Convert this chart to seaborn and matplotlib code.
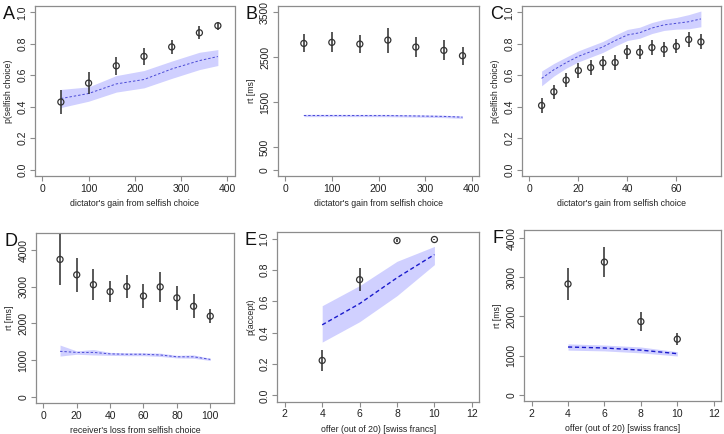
import numpy as np
import pandas as pd
import matplotlib
matplotlib.use("Agg")
import matplotlib.pyplot as plt
import seaborn as sns

# ---- panel A: dictator game, p(selfish choice)
a_x = [40, 100, 160, 220, 280, 340, 380]
a_obs = [0.43, 0.55, 0.66, 0.72, 0.78, 0.87, 0.915]
a_err = [0.074, 0.07, 0.058, 0.054, 0.044, 0.04, 0.025]
a_model = [0.452, 0.484, 0.545, 0.573, 0.64, 0.693, 0.719]
a_lo = [0.395, 0.435, 0.493, 0.52, 0.58, 0.636, 0.662]
a_hi = [0.51, 0.526, 0.598, 0.63, 0.69, 0.746, 0.763]

# ---- panel B: dictator game, rt
b_x = [40, 100, 160, 220, 280, 340, 380]
b_obs = [2808, 2831, 2794, 2882, 2727, 2653, 2535]
b_err = [200, 220, 195, 277, 218, 222, 203]
b_model = [1205, 1205, 1204, 1203, 1195, 1185, 1168]
b_lo = [1180, 1180, 1180, 1178, 1170, 1158, 1140]
b_hi = [1232, 1232, 1230, 1230, 1222, 1212, 1196]

# ---- panel C: second dictator data set
c_x = [5, 10, 15, 20, 25, 30, 35, 40, 45, 50, 55, 60, 65, 70]
c_obs = [0.408, 0.495, 0.569, 0.63, 0.649, 0.679, 0.681, 0.75, 0.746, 0.776,
         0.765, 0.784, 0.827, 0.812]
c_err = [0.048, 0.045, 0.045, 0.045, 0.045, 0.045, 0.045, 0.045, 0.045, 0.045,
         0.047, 0.045, 0.045, 0.048]
c_model = [0.58, 0.635, 0.68, 0.72, 0.75, 0.78, 0.82, 0.856, 0.87, 0.90,
           0.92, 0.93, 0.94, 0.958]
c_half = [0.047, 0.04, 0.035, 0.035, 0.035, 0.035, 0.035, 0.035, 0.035, 0.035,
          0.035, 0.037, 0.045, 0.05]

# ---- panel D: receiver's loss, rt
d_x = [10, 20, 30, 40, 50, 60, 70, 80, 90, 100]
d_obs = [3750, 3330, 3060, 2870, 3010, 2750, 3000, 2700, 2470, 2200]
d_err = [700, 460, 420, 290, 320, 340, 400, 320, 330, 200]
d_model = [1240, 1210, 1210, 1170, 1160, 1160, 1140, 1090, 1090, 1020]
d_lo = [1110, 1160, 1140, 1130, 1120, 1120, 1100, 1060, 1050, 990]
d_hi = [1410, 1250, 1290, 1210, 1200, 1200, 1190, 1130, 1140, 1050]

# ---- panel E: ultimatum game, p(accept)
e_x = [4, 6, 8, 10]
e_obs = [0.223, 0.738, 0.987, 0.994]
e_err = [0.068, 0.075, 0.012, 0.006]
e_model = [0.45, 0.585, 0.75, 0.898]
e_lo = [0.34, 0.47, 0.636, 0.834]
e_hi = [0.572, 0.70, 0.855, 0.95]

# ---- panel F: ultimatum game, rt
f_x = [4, 6, 8, 10]
f_obs = [2830, 3390, 1870, 1420]
f_err = [410, 390, 240, 150]
f_model = [1220, 1195, 1140, 1050]
f_lo = [1140, 1120, 1070, 990]
f_hi = [1300, 1270, 1220, 1100]

sns.set_style("white")
plt.rcParams["font.family"] = ["Liberation Sans", "DejaVu Sans"]

GRAY = "#8c8c8c"
BAND = "#d0d0ff"
LINE = "#4a4ad6"


def draw_panel(ax, x, obs, err, model, lo, hi, letter, xlabel, ylabel,
               xlim, ylim, xticks, yticks, yfmt, dark=False):
    ax.fill_between(x, lo, hi, color=BAND, lw=0, zorder=1)
    df = pd.DataFrame({"x": x, "model": model})
    sns.lineplot(data=df, x="x", y="model", ax=ax, color="#1a1acc" if dark else LINE,
                 linestyle=(0, (3, 2)) if dark else (0, (2.5, 2)),
                 linewidth=1.0 if dark else 0.7, zorder=2)
    ax.errorbar(x, obs, yerr=err, fmt="none", ecolor="#2b2b2b", elinewidth=1.1,
                capsize=0, zorder=3)
    sns.scatterplot(x=x, y=obs, ax=ax, marker="o", s=19, facecolor="none",
                    edgecolor="#333333", linewidth=0.9, zorder=4)
    ax.set_xlim(xlim)
    ax.set_ylim(ylim)
    ax.set_xticks(xticks)
    ax.set_yticks(yticks)
    ax.set_yticklabels([yfmt.format(v) for v in yticks], rotation=90, va="center")
    ax.tick_params(axis="both", direction="out", length=3.5, width=0.8,
                   color=GRAY, labelsize=7.5, pad=2, labelcolor="#222222")
    ax.tick_params(axis="both", which="both", bottom=True, left=True)
    for s in ax.spines.values():
        s.set_color(GRAY)
        s.set_linewidth(0.9)
    ax.set_xlabel(xlabel, fontsize=6.3, labelpad=4, color="#222222")
    ax.set_ylabel(ylabel, fontsize=6.3, labelpad=3, color="#222222")
    ax.text(-0.16, 1.0, letter, transform=ax.transAxes, fontsize=13,
            va="top", ha="left", color="#111111")


fig = plt.figure(figsize=(7.24, 4.34), dpi=100)

W, H = 724.0, 434.0


def add(left, right, top, bottom):
    return fig.add_axes([left / W, 1 - bottom / H, (right - left) / W, (bottom - top) / H])


ax_a = add(35, 234.5, 6, 176)
ax_b = add(277.7, 479.3, 6, 176)
ax_c = add(522, 720.5, 6, 176)
ax_d = add(36, 234.3, 233, 403)
ax_e = add(277.3, 479.3, 232.3, 401.7)
ax_f = add(524.3, 721, 230, 401)

prob_ticks = [0.0, 0.2, 0.4, 0.6, 0.8, 1.0]

draw_panel(ax_a, a_x, a_obs, a_err, a_model, a_lo, a_hi, "A",
           "dictator's gain from selfish choice", "p(selfish choice)",
           (-16, 416), (-0.04, 1.04), [0, 100, 200, 300, 400], prob_ticks, "{:.1f}")
draw_panel(ax_b, b_x, b_obs, b_err, b_model, b_lo, b_hi, "B",
           "dictator's gain from selfish choice", "rt [ms]",
           (-16, 416), (-140, 3640), [0, 100, 200, 300, 400],
           [0, 500, 1500, 2500, 3500], "{:d}")
draw_panel(ax_c, c_x, c_obs, c_err, c_model,
           [m - h for m, h in zip(c_model, c_half)],
           [m + h for m, h in zip(c_model, c_half)], "C",
           "dictator's gain from selfish choice", "p(selfish choice)",
           (-3, 78), (-0.04, 1.04), [0, 20, 40, 60], prob_ticks, "{:.1f}")
draw_panel(ax_d, d_x, d_obs, d_err, d_model, d_lo, d_hi, "D",
           "receiver's loss from selfish choice", "rt [ms]",
           (-4.4, 114.4), (-172, 4472), [0, 20, 40, 60, 80, 100],
           [0, 1000, 2000, 3000, 4000], "{:d}")
draw_panel(ax_e, e_x, e_obs, e_err, e_model, e_lo, e_hi, "E",
           "offer (out of 20) [swiss francs]", "p(accept)",
           (1.6, 12.4), (-0.04, 1.04), [2, 4, 6, 8, 10, 12], prob_ticks, "{:.1f}",
           dark=True)
draw_panel(ax_f, f_x, f_obs, f_err, f_model, f_lo, f_hi, "F",
           "offer (out of 20) [swiss francs]", "rt [ms]",
           (1.6, 12.4), (-160, 4210), [2, 4, 6, 8, 10, 12],
           [0, 1000, 2000, 3000, 4000], "{:d}", dark=True)

fig.savefig("out.png", dpi=100)
